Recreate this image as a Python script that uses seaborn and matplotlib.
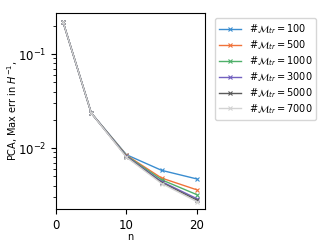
import matplotlib
matplotlib.use("Agg")
import matplotlib.pyplot as plt
import seaborn as sns
import pandas as pd
import numpy as np

n_vals = [1, 5, 10, 15, 20]
labels = [r"$\#\mathcal{M}_{tr} = 100$", r"$\#\mathcal{M}_{tr} = 500$", r"$\#\mathcal{M}_{tr} = 1000$",
          r"$\#\mathcal{M}_{tr} = 3000$", r"$\#\mathcal{M}_{tr} = 5000$", r"$\#\mathcal{M}_{tr} = 7000$"]
err_100 = [0.219, 0.0236, 0.0085, 0.0058, 0.0047]
err_500 = [0.219, 0.0236, 0.0084, 0.0048, 0.0036]
err_1000 = [0.219, 0.0236, 0.0083, 0.0046, 0.0032]
err_3000 = [0.219, 0.0236, 0.0082, 0.0044, 0.0029]
err_5000 = [0.219, 0.0236, 0.0081, 0.0043, 0.0028]
err_7000 = [0.219, 0.0236, 0.0080, 0.0042, 0.0027]
colors = ["#3a8dd0", "#f0733a", "#4fb06a", "#7361c0", "#5a5a5a", "#d3d3d3"]

series = [err_100, err_500, err_1000, err_3000, err_5000, err_7000]

fig = plt.figure(figsize=(3.32, 2.49), dpi=100)
ax = fig.add_axes([0.169, 0.16, 0.447, 0.787])
for lab, vals, c in zip(labels, series, colors):
    sns.lineplot(x=n_vals, y=vals, color=c, label=lab, marker="x", markersize=3,
                 linewidth=1, markeredgewidth=0.8, markeredgecolor=c, ax=ax)
ax.set_yscale("log")
ax.set_xlim(0, 21.1)
ax.set_ylim(0.00224, 0.273)
ax.set_xticks([0, 10, 20])
ax.set_xlabel("n", fontsize=7)
ax.set_ylabel(r"PCA, Max err in $H^{-1}$,", fontsize=7)
ax.yaxis.set_label_coords(-0.245, 0.5)
ax.xaxis.set_label_coords(0.5, -0.115)
ax.tick_params(axis="both", labelsize=8.5)
leg = ax.legend(loc="upper left", bbox_to_anchor=(1.074, 0.974), borderaxespad=0,
                fontsize=7, handlelength=2.2, borderpad=0.4, labelspacing=0.22)
fig.savefig("out.png", dpi=100)
